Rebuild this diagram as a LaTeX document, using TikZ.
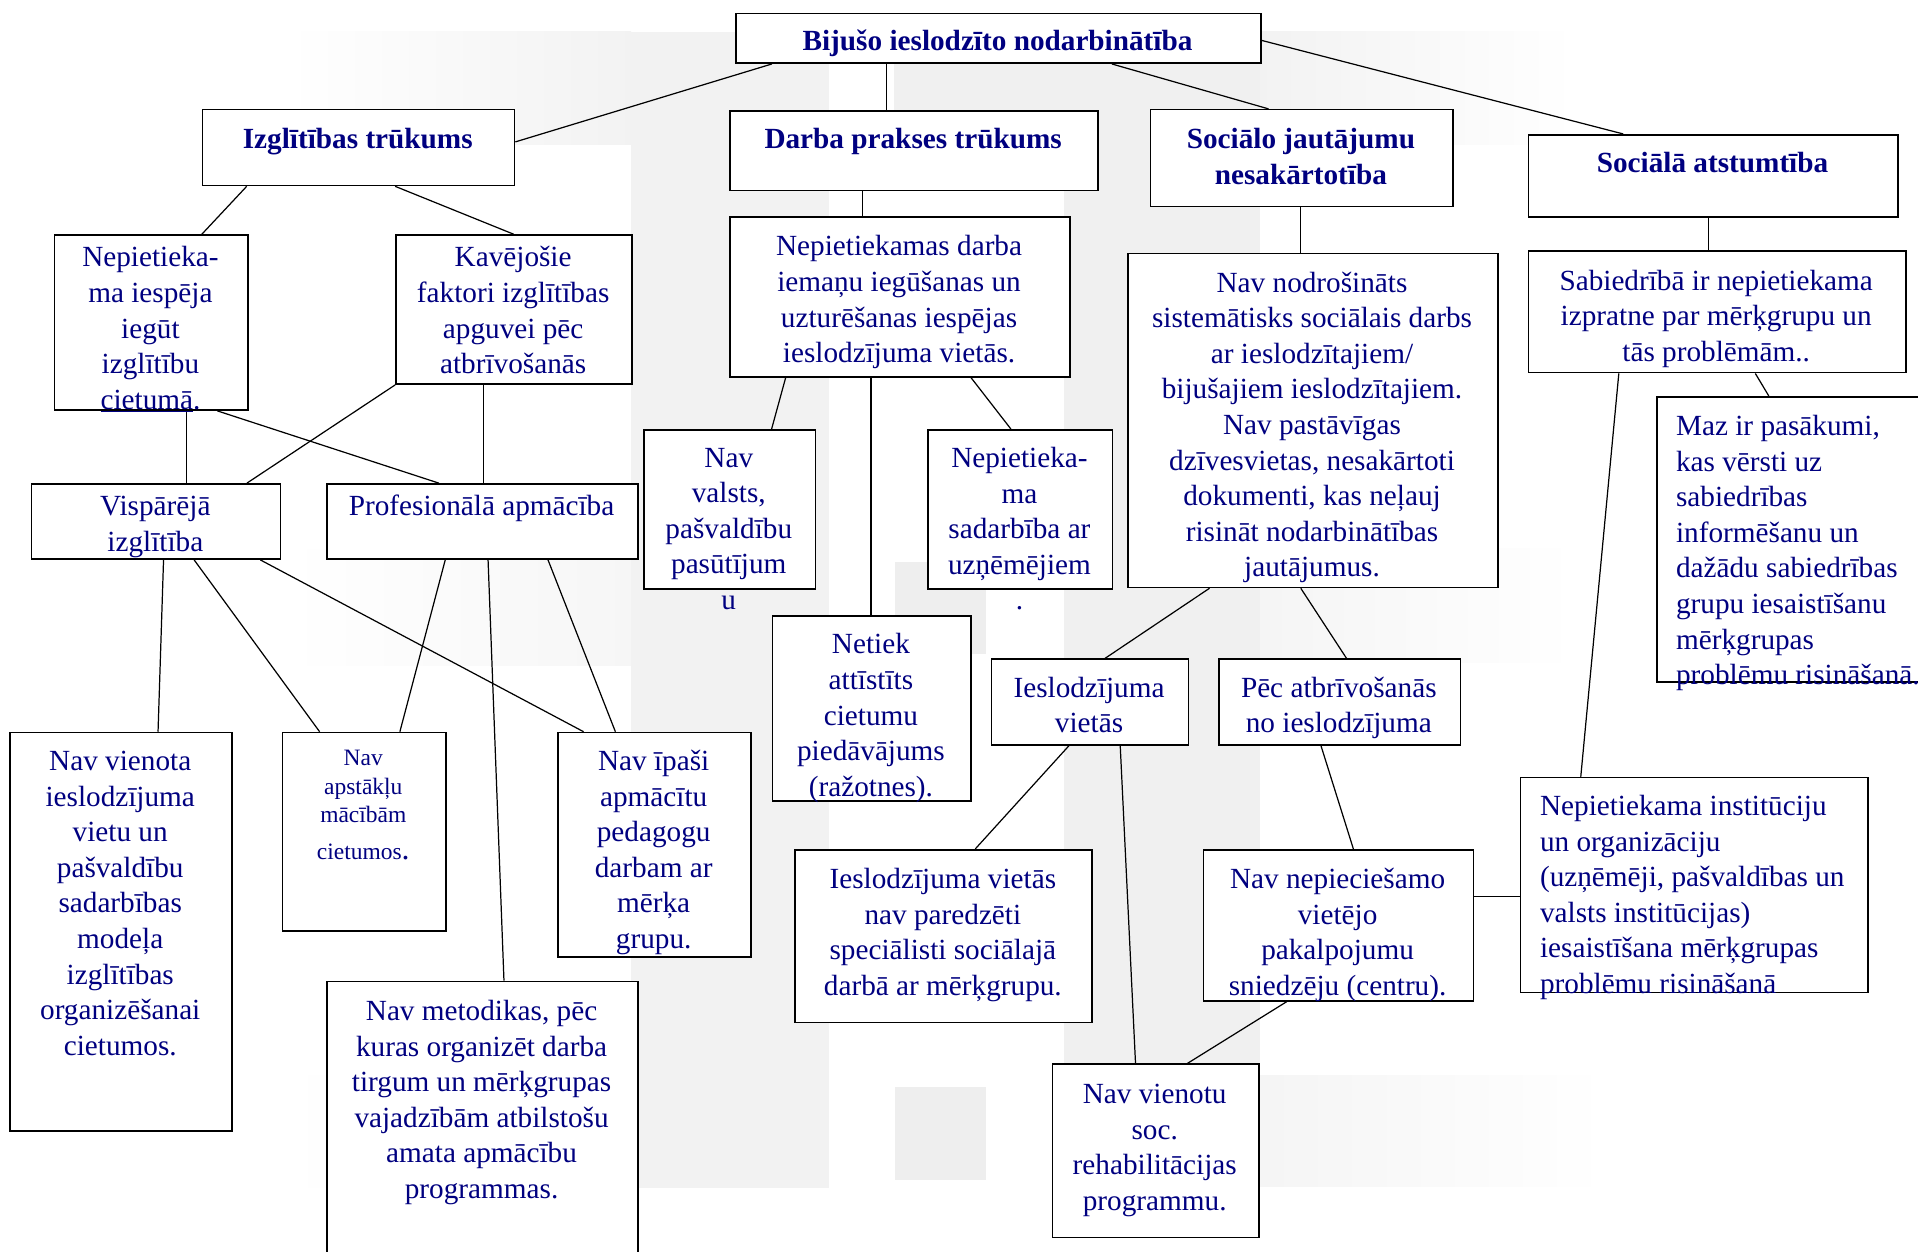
\documentclass[tikz,border=0pt]{standalone}
\usepackage{fontspec}
\setmainfont{Liberation Serif}
\definecolor{navy}{RGB}{0,0,128}
\newcommand\F{\rule{0pt}{24pt}}
\tikzset{
  bx/.style={draw, line width=1.3pt, fill=white, inner sep=0pt, anchor=north west},
  txt/.style={inner sep=0pt, anchor=north, align=center, text=navy,
    font=\fontsize{23.9}{29.1}\selectfont},
  ltxt/.style={txt, anchor=north west, align=left},
  link/.style={line width=1pt},
  wm/.style={draw=none}
}
\newcommand\mkbox[5]{\node[bx, minimum width={#4pt-#2pt}, minimum height={#5pt-#3pt}] (#1) at (#2,#3) {};}
\newcommand\mktext[4]{\node[txt] (#1) at (#2,#3-24) {\F #4};}
\begin{document}
\begin{tikzpicture}[x=1pt, y=-1pt]
\useasboundingbox (0,0) rectangle (1568,1023);
% ---------- watermark ----------
\shade[wm, left color=white, right color=gray!10] (235,26) rectangle (516,118.5);
\fill[gray!10] (516,26) rectangle (678,971);
\fill[gray!12] (731,26) rectangle (1030,118.5);
\fill[gray!12] (870,118.5) rectangle (1030,971);
\shade[wm, left color=gray!10, right color=white] (1030,26) rectangle (1288,118.5);
\shade[wm, left color=white, right color=gray!7] (235,449.6) rectangle (516,543.7);
\shade[wm, left color=gray!8, right color=white] (1030,448) rectangle (1288,542);
\shade[wm, left color=white, right color=gray!8] (238,879) rectangle (516,971);
\shade[wm, left color=gray!8, right color=white] (1030,879) rectangle (1314,970);
\fill[gray!13] (731.7,459.5) rectangle (806,534.7);
\fill[gray!13] (731.7,888.7) rectangle (806,964.9);
% ---------- boxes ----------
\mkbox{top}{601}{10.4}{1030}{51}
\mkbox{izg}{165}{89}{420}{151}
\mkbox{darba}{596}{90}{897}{155}
\mkbox{soc}{940}{89}{1187}{168}
\mkbox{atst}{1249}{109.5}{1551}{176.6}
\mkbox{nepIesp}{44}{191.5}{202}{334.6}
\mkbox{kav}{323}{191.5}{516}{313.4}
\mkbox{nepDarba}{596}{176.6}{874}{307.4}
\mkbox{navNodr}{921.4}{206.6}{1223.9}{479.6}
\mkbox{sabiedr}{1249}{204.4}{1557.5}{304}
\mkbox{maz}{1354}{323.7}{1580}{557}
\mkbox{instit}{1242.3}{635}{1526.3}{810.7}
\mkbox{navNepiec}{983.3}{694}{1203.8}{817.5}
\mkbox{navVienSoc}{859.8}{869.3}{1028.4}{1011}
\mkbox{ieslVietas}{809.8}{538.2}{970.8}{608.3}
\mkbox{pec}{995.8}{538.2}{1193.3}{608.3}
\mkbox{ieslNav}{649.4}{694}{892.3}{835.3}
\mkbox{navValsts}{525.7}{350.7}{665.9}{481}
\mkbox{nepSadarb}{758}{350.7}{908.8}{481}
\mkbox{netiek}{630.8}{502.8}{793}{654}
\mkbox{visp}{25}{395}{228.8}{456.4}
\mkbox{prof}{266.8}{395}{520.7}{456.4}
\mkbox{navVienota}{7.5}{598.2}{189.2}{923.8}
\mkbox{navApst}{230.3}{598.2}{363.8}{760.3}
\mkbox{navIpasi}{455.5}{598.2}{613.3}{781.6}
\mkbox{navMet}{266.8}{801.7}{520.7}{1040}
% ---------- connectors ----------
\draw[link] (top.south -| 631,0) -- (izg.east |- 0,116);
\draw[link] (top.south -| 724.5,0) -- (darba.north -| 724.5,0);
\draw[link] (top.south -| 909,0) -- (soc.north -| 1037,0);
\draw[link] (top.east |- 0,33) -- (atst.north -| 1327,0);
\draw[link] (izg.south -| 201.7,0) -- (nepIesp.north -| 165,0);
\draw[link] (izg.south -| 323,0) -- (kav.north -| 420,0);
\draw[link] (darba.south -| 705,0) -- (nepDarba.north -| 705,0);
\draw[link] (soc.south -| 1063.4,0) -- (navNodr.north -| 1063.4,0);
\draw[link] (atst.south -| 1397,0) -- (sabiedr.north -| 1397,0);
\draw[link] (sabiedr.south -| 1435,0) -- (maz.north -| 1446,0);
\draw[link] (sabiedr.south -| 1323.4,0) -- (instit.north -| 1292.3,0);
\draw[link] (navNepiec.east |- 0,733) -- (instit.west |- 0,733);
\draw[link] (navNepiec.south -| 1052,0) -- (navVienSoc.north -| 970.8,0);
\draw[link] (navNodr.south -| 988.8,0) -- (ieslVietas.north -| 903.4,0);
\draw[link] (navNodr.south -| 1063.4,0) -- (pec.north -| 1100.8,0);
\draw[link] (pec.south -| 1079.9,0) -- (navNepiec.north -| 1106.4,0);
\draw[link] (ieslVietas.south -| 873.9,0) -- (ieslNav.north -| 797.3,0);
\draw[link] (ieslVietas.south -| 915.8,0) -- (navVienSoc.north -| 928.3,0);
\draw[link] (nepDarba.south -| 642.3,0) -- (navValsts.north -| 630.8,0);
\draw[link] (nepDarba.south -| 793.8,0) -- (nepSadarb.north -| 826.4,0);
\draw[link] (nepDarba.south -| 712,0) -- (netiek.north -| 712,0);
\draw[link] (nepIesp.south -| 152.7,0) -- (visp.north -| 152.7,0);
\draw[link] (nepIesp.south -| 177.7,0) -- (prof.north -| 358.9,0);
\draw[link] (kav.south west) -- (visp.north -| 201.8,0);
\draw[link] (kav.south -| 395,0) -- (prof.north -| 395,0);
\draw[link] (visp.south -| 133.7,0) -- (navVienota.north -| 129.2,0);
\draw[link] (visp.south -| 158.7,0) -- (navApst.north -| 261.3,0);
\draw[link] (visp.south -| 212.8,0) -- (navIpasi.north -| 477.1,0);
\draw[link] (prof.south -| 364,0) -- (navApst.north -| 326.9,0);
\draw[link] (prof.south -| 399,0) -- (navMet.north -| 412,0);
\draw[link] (prof.south -| 448,0) -- (navIpasi.north -| 503.1,0);
% ---------- texts ----------
\mktext{t-top}{815.5}{41}{\textbf{Bijušo ieslodzīto nodarbinātība}}
\mktext{t-izg}{292.5}{121.5}{\textbf{Izglītības trūkums}}
\mktext{t-darba}{746.5}{121.5}{\textbf{Darba prakses trūkums}}
\mktext{t-soc}{1063.5}{121.5}{\textbf{Sociālo jautājumu}\\\textbf{nesakārtotība}}
\mktext{t-atst}{1400}{140.5}{\textbf{Sociālā atstumtība}}
\mktext{t-nepIesp}{123}{218}{Nepietieka-\\ma iespēja\\iegūt\\izglītību\\\underline{cietumā}.}
\mktext{t-kav}{419.5}{218}{Kavējošie\\faktori izglītības\\apguvei pēc\\atbrīvošanās}
\mktext{t-nepDarba}{735}{209}{Nepietiekamas darba\\iemaņu iegūšanas un\\uzturēšanas iespējas\\ieslodzījuma vietās.}
\mktext{t-navNodr}{1072.6}{238.6}{Nav nodrošināts\\sistemātisks sociālais darbs\\ar ieslodzītajiem/\\bijušajiem ieslodzītajiem.\\Nav pastāvīgas\\dzīvesvietas, nesakārtoti\\dokumenti, kas neļauj\\risināt nodarbinātības\\jautājumus.}
\mktext{t-sabiedr}{1403}{237}{Sabiedrībā ir nepietiekama\\izpratne par mērķgrupu un\\tās problēmām..}
\node[ltxt] (t-maz) at (1370,355.8-24) {\F Maz ir pasākumi,\\kas vērsti uz\\sabiedrības\\informēšanu un\\dažādu sabiedrības\\grupu iesaistīšanu\\mērķgrupas\\problēmu risināšanā.};
\node[ltxt] (t-instit) at (1258.8,666.5-24) {\F Nepietiekama institūciju\\un organizāciju\\(uzņēmēji, pašvaldības un\\valsts institūcijas)\\iesaistīšana mērķgrupas\\problēmu risināšanā};
\mktext{t-navNepiec}{1093.5}{726.4}{Nav nepieciešamo\\vietējo\\pakalpojumu\\sniedzēju (centru).}
\mktext{t-navVienSoc}{944}{902}{Nav vienotu\\soc.\\rehabilitācijas\\programmu.}
\mktext{t-ieslVietas}{890.3}{569.7}{Ieslodzījuma\\vietās}
\mktext{t-pec}{1094.5}{569.7}{Pēc atbrīvošanās\\no ieslodzījuma}
\mktext{t-ieslNav}{770.8}{726.4}{Ieslodzījuma vietās\\nav paredzēti\\speciālisti sociālajā\\darbā ar mērķgrupu.}
\mktext{t-navValsts}{595.8}{381.7}{Nav\\valsts,\\pašvaldību\\pasūtījum\\u}
\mktext{t-nepSadarb}{833.4}{382}{Nepietieka-\\ma\\sadarbība ar\\uzņēmējiem\\.}
\mktext{t-netiek}{712}{534.3}{Netiek\\attīstīts\\cietumu\\piedāvājums\\(ražotnes).}
\mktext{t-visp}{127}{421.2}{Vispārējā\\izglītība}
\mktext{t-prof}{393.7}{421.2}{Profesionālā apmācība}
\mktext{t-navVienota}{98.3}{629.7}{Nav vienota\\ieslodzījuma\\vietu un\\pašvaldību\\sadarbības\\modeļa\\izglītības\\organizēšanai\\cietumos.}
\node[txt, font=\fontsize{19.2}{23.3}\selectfont] (t-navApst) at (297,626-24) {\F Nav\\apstākļu\\mācībām\\[6.7pt]cietumos{\fontsize{26}{26}\selectfont .}};
\mktext{t-navIpasi}{534.4}{629.7}{Nav īpaši\\apmācītu\\pedagogu\\darbam ar\\mērķa\\grupu.}
\mktext{t-navMet}{393.7}{834}{Nav metodikas, pēc\\kuras organizēt darba\\tirgum un mērķgrupas\\vajadzībām atbilstošu\\amata apmācību\\programmas.}
\end{tikzpicture}
\end{document}
